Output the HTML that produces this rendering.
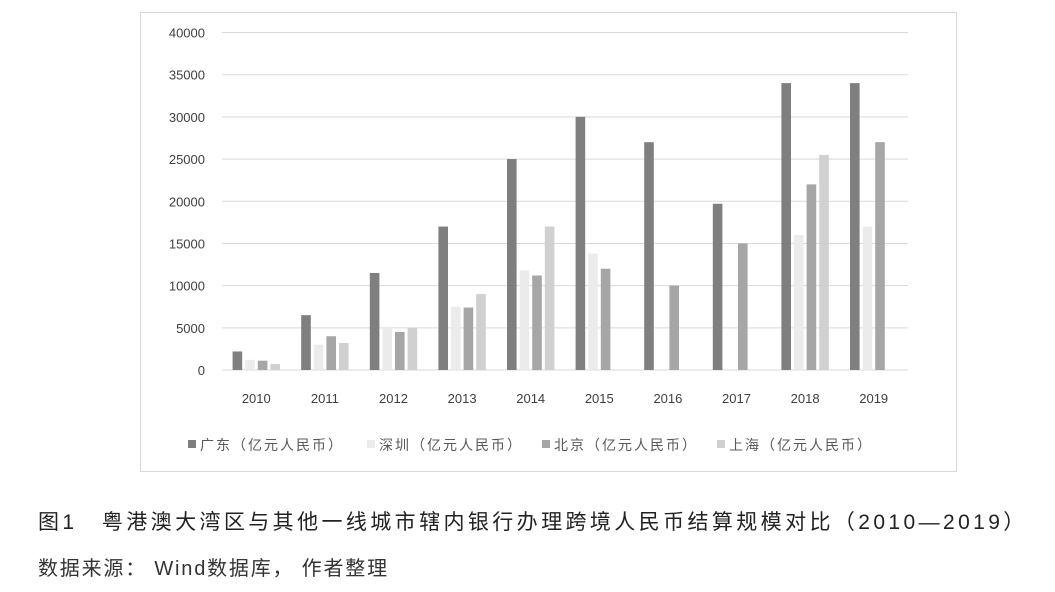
<!DOCTYPE html>
<html><head><meta charset="utf-8"><style>
body{margin:0;width:1055px;height:592px;background:#fff;overflow:hidden;font-family:"Liberation Sans","Noto Sans CJK SC",sans-serif}
#frame{position:absolute;left:140px;top:12px;width:817px;height:460px;border:1px solid #d9d9d9;box-sizing:border-box}
svg{position:absolute;left:0;top:0}
.t{position:absolute;left:38px;color:#333;white-space:nowrap}
</style></head><body>
<div id="frame"></div>
<svg width="1055" height="592" id="chart"></svg>
<div class="t" style="top:506px;font-size:21px;letter-spacing:3.4px;color:#222">图1　粤港澳大湾区与其他一线城市辖内银行办理跨境人民币结算规模对比（2010—2019）</div>
<div class="t" style="top:552px;font-size:20px;letter-spacing:1.8px;color:#333">数据来源： Wind数据库， 作者整理</div>
<script>
const categories=["2010","2011","2012","2013","2014","2015","2016","2017","2018","2019"];
const seriesNames=["广东（亿元人民币）","深圳（亿元人民币）","北京（亿元人民币）","上海（亿元人民币）"];
const guangdong=[2200,6500,11500,17000,25000,30000,27000,19700,34000,34000];
const shenzhen=[1200,3000,5000,7500,11800,13800,0,0,16000,17000];
const beijing=[1100,4000,4500,7400,11200,12000,10000,15000,22000,27000];
const shanghai=[700,3200,5000,9000,17000,0,0,0,25500,0];
const yTicks=[0,5000,10000,15000,20000,25000,30000,35000,40000];
const colors=["#7f7f7f","#ebebeb","#a6a6a6","#d0d0d0"];
const NS="http://www.w3.org/2000/svg";
const svg=document.getElementById('chart');
const x0=222,x1=908,y0=370,y1=32.5,yMax=40000;
const y=v=>y0-(v/yMax)*(y0-y1);
const bw=(x1-x0)/categories.length;
const xc=i=>x0+bw*(i+0.5);
function mk(tag,a){const e=document.createElementNS(NS,tag);for(const k in a)e.setAttribute(k,a[k]);svg.appendChild(e);return e;}
yTicks.forEach(t=>{
 const l=mk('line',{x1:x0,x2:x1,y1:y(t),y2:y(t),stroke:'#d9d9d9','stroke-width':1});
 
 
 const tx=mk('text',{x:205,y:y(t)+5,'text-anchor':'end','font-size':13,fill:'#404040'});
 tx.textContent=t;
 
 
});
const all=[guangdong,shenzhen,beijing,shanghai];
const barW=9.6,step=12.6;
categories.forEach((c,i)=>{
 all.forEach((s,j)=>{
  const v=s[i];
  const r=mk('rect',{x:xc(i)-2*step+j*step+1.5,y:y(v),width:barW,height:y0-y(v),fill:colors[j]});
  
  
 });
 const tx=mk('text',{x:xc(i),y:403,'text-anchor':'middle','font-size':13,fill:'#404040'});
 tx.textContent=c;
 
 
});
const lx=[188,367,542,717];
seriesNames.forEach((n,j)=>{
 const r=mk('rect',{x:lx[j],y:440,width:8,height:8,fill:colors[j]});
 
 
 const tx=mk('text',{x:lx[j]+12,y:450,'font-size':14,'letter-spacing':2,fill:'#595959','font-family':'"Liberation Sans","Noto Sans CJK SC",sans-serif'});
 tx.textContent=n;
 
 
});
</script>
</body></html>
